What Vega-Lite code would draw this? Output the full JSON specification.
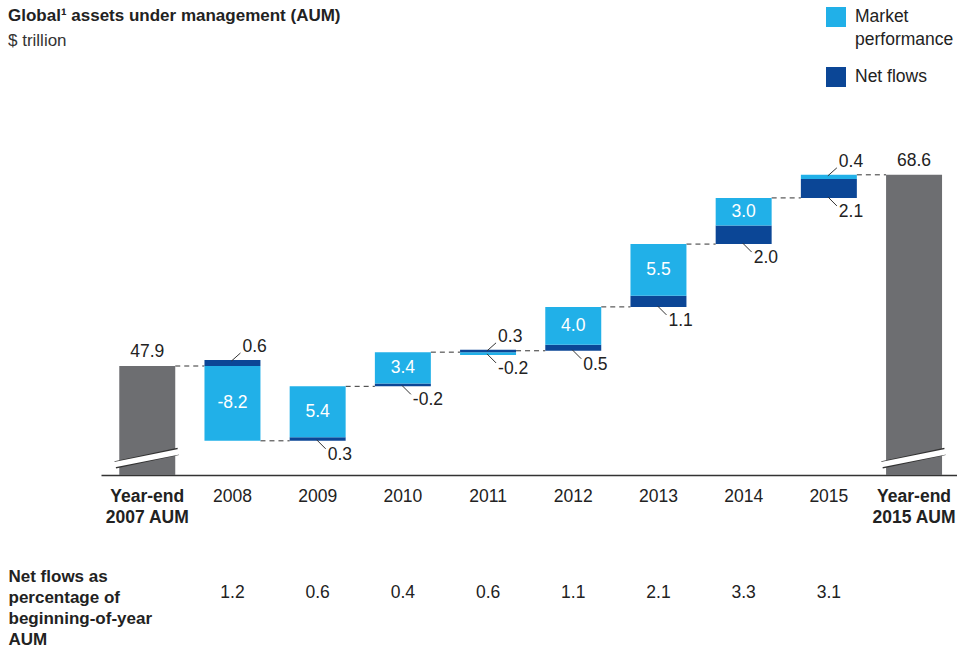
{
  "$schema": "https://vega.github.io/schema/vega-lite/v6.json",
  "autosize": {"type": "none"},
  "padding": {"left": 101, "top": 100, "right": 0, "bottom": 172},
  "width": 856,
  "height": 375,
  "background": "white",
  "config": {
    "view": {"stroke": null},
    "font": "Liberation Sans",
    "text": {"font": "Liberation Sans"}
  },
  "title": {
    "text": "Global¹ assets under management (AUM)",
    "subtitle": "$ trillion",
    "anchor": "start",
    "frame": "group",
    "dx": -93,
    "offset": 0,
    "dy": 43,
    "font": "Liberation Sans",
    "fontSize": 17,
    "fontWeight": "bold",
    "color": "#222222",
    "subtitleFont": "Liberation Sans",
    "subtitleFontSize": 17,
    "subtitleColor": "#333333",
    "subtitlePadding": 8
  },
  "datasets": {
    "bars": [
      {"cat": "Year-end 2007 AUM", "type": "Total", "lo": 36.1, "hi": 47.9, "label": "47.9"},
      {"cat": "2008", "type": "Net flows", "lo": 47.9, "hi": 48.55, "label": "0.6"},
      {"cat": "2008", "type": "Market performance", "lo": 39.8, "hi": 47.9, "label": "-8.2"},
      {"cat": "2009", "type": "Net flows", "lo": 39.8, "hi": 40.2, "label": "0.3"},
      {"cat": "2009", "type": "Market performance", "lo": 40.2, "hi": 45.7, "label": "5.4"},
      {"cat": "2010", "type": "Net flows", "lo": 45.7, "hi": 46.0, "label": "-0.2"},
      {"cat": "2010", "type": "Market performance", "lo": 46.0, "hi": 49.4, "label": "3.4"},
      {"cat": "2011", "type": "Market performance", "lo": 49.1, "hi": 49.4, "label": "-0.2"},
      {"cat": "2011", "type": "Net flows", "lo": 49.4, "hi": 49.65, "label": "0.3"},
      {"cat": "2012", "type": "Net flows", "lo": 49.55, "hi": 50.2, "label": "0.5"},
      {"cat": "2012", "type": "Market performance", "lo": 50.2, "hi": 54.3, "label": "4.0"},
      {"cat": "2013", "type": "Net flows", "lo": 54.3, "hi": 55.5, "label": "1.1"},
      {"cat": "2013", "type": "Market performance", "lo": 55.5, "hi": 61.1, "label": "5.5"},
      {"cat": "2014", "type": "Net flows", "lo": 61.1, "hi": 63.1, "label": "2.0"},
      {"cat": "2014", "type": "Market performance", "lo": 63.1, "hi": 66.1, "label": "3.0"},
      {"cat": "2015", "type": "Net flows", "lo": 66.1, "hi": 68.15, "label": "2.1"},
      {"cat": "2015", "type": "Market performance", "lo": 68.15, "hi": 68.6, "label": "0.4"},
      {"cat": "Year-end 2015 AUM", "type": "Total", "lo": 36.1, "hi": 68.6, "label": "68.6"}
    ],
    "connectors": [
      {"cat": "Year-end 2007 AUM", "next": "2008", "level": 47.9},
      {"cat": "2008", "next": "2009", "level": 39.8},
      {"cat": "2009", "next": "2010", "level": 45.7},
      {"cat": "2010", "next": "2011", "level": 49.4},
      {"cat": "2011", "next": "2012", "level": 49.55},
      {"cat": "2012", "next": "2013", "level": 54.3},
      {"cat": "2013", "next": "2014", "level": 61.1},
      {"cat": "2014", "next": "2015", "level": 66.1},
      {"cat": "2015", "next": "Year-end 2015 AUM", "level": 68.6}
    ],
    "pct": [
      {"cat": "2008", "pct": "1.2"},
      {"cat": "2009", "pct": "0.6"},
      {"cat": "2010", "pct": "0.4"},
      {"cat": "2011", "pct": "0.6"},
      {"cat": "2012", "pct": "1.1"},
      {"cat": "2013", "pct": "2.1"},
      {"cat": "2014", "pct": "3.3"},
      {"cat": "2015", "pct": "3.1"}
    ]
  },
  "encoding": {
    "x": {
      "field": "cat",
      "type": "nominal",
      "sort": null,
      "scale": {
        "domain": ["Year-end 2007 AUM", "2008", "2009", "2010", "2011", "2012", "2013", "2014", "2015", "Year-end 2015 AUM"],
        "paddingInner": 0.343,
        "paddingOuter": 0.195,
        "align": 0.55
      },
      "axis": {
        "title": ["Net flows as", "percentage of", "beginning-of-year", "AUM"],
        "titleFont": "Liberation Sans",
        "titleFontSize": 17,
        "titleFontWeight": "bold",
        "titleColor": "#222222",
        "titleAlign": "left",
        "titleAnchor": "start",
        "titleBaseline": "top",
        "titleLineHeight": 21,
        "titleX": -93,
        "titleY": 93,
        "labelAngle": 0,
        "labelFont": "Liberation Sans",
        "labelFontSize": 17.5,
        "labelColor": "#222222",
        "labelBaseline": "top",
        "labelPadding": 12,
        "labelLineHeight": 21.5,
        "labelOverlap": false,
        "labelBound": false,
        "labelExpr": "indexof(datum.label, 'Year-end') == 0 ? ['Year-end', substring(datum.label, 9)] : datum.label",
        "labelFontWeight": {"condition": {"test": "indexof(datum.label, 'Year-end') == 0", "value": "bold"}, "value": "normal"},
        "ticks": false,
        "grid": false,
        "domainColor": "#333333",
        "domainWidth": 1.5
      }
    }
  },
  "layer": [
    {
      "data": {"name": "connectors"},
      "mark": {"type": "rule", "color": "#333333", "strokeWidth": 1, "strokeDash": [5, 4], "xOffset": 28, "x2Offset": -28},
      "encoding": {
        "x2": {"field": "next"},
        "y": {"field": "level", "type": "quantitative", "scale": {"domain": [36.1, 76.7], "nice": false, "zero": false}, "axis": null}
      }
    },
    {
      "data": {"name": "bars"},
      "mark": {"type": "bar"},
      "encoding": {
        "y": {"field": "lo", "type": "quantitative", "scale": {"domain": [36.1, 76.7], "nice": false, "zero": false}, "axis": null},
        "y2": {"field": "hi"},
        "color": {
          "field": "type",
          "type": "nominal",
          "scale": {"domain": ["Market performance", "Net flows", "Total"], "range": ["#21b0e8", "#0b4696", "#6d6e71"]},
          "legend": {
            "values": ["Market performance", "Net flows"],
            "title": null,
            "orient": "none",
            "legendX": 725,
            "legendY": -93,
            "symbolType": "square",
            "symbolSize": 400,
            "symbolStrokeWidth": 0,
            "symbolOpacity": 1,
            "labelFont": "Liberation Sans",
            "labelFontSize": 17.5,
            "labelColor": "#222222",
            "labelOffset": 9,
            "labelBaseline": "middle",
            "rowPadding": 18,
            "labelExpr": "datum.label == 'Market performance' ? ['Market', 'performance'] : datum.label",
            "encode": {"labels": {"update": {"lineHeight": {"value": 23}}}}
          }
        }
      }
    },
    {
      "data": {"name": "bars"},
      "transform": [{"filter": "datum.type == 'Total'"}],
      "mark": {"type": "rule", "color": "#333333", "strokeWidth": 7.5, "xOffset": -32, "x2Offset": 31},
      "encoding": {
        "x2": {"field": "cat"},
        "y": {"datum": 37.2, "type": "quantitative", "scale": {"domain": [36.1, 76.7], "nice": false, "zero": false}, "axis": null},
        "y2": {"datum": 38.65}
      }
    },
    {
      "data": {"name": "bars"},
      "transform": [{"filter": "datum.type == 'Total'"}],
      "mark": {"type": "rule", "color": "#ffffff", "strokeWidth": 5.5, "xOffset": -34, "x2Offset": 33},
      "encoding": {
        "x2": {"field": "cat"},
        "y": {"datum": 37.2, "type": "quantitative", "scale": {"domain": [36.1, 76.7], "nice": false, "zero": false}, "axis": null},
        "y2": {"datum": 38.65}
      }
    },
    {
      "data": {"name": "bars"},
      "transform": [{"filter": "datum.type == 'Total'"}],
      "mark": {"type": "text", "fontSize": 17.5, "color": "#222222", "baseline": "middle", "yOffset": -14},
      "encoding": {
        "y": {"field": "hi", "type": "quantitative", "scale": {"domain": [36.1, 76.7], "nice": false, "zero": false}, "axis": null},
        "text": {"field": "label"}
      }
    },
    {
      "data": {"name": "bars"},
      "transform": [
        {"filter": "datum.type == 'Market performance' && datum.hi - datum.lo > 2"},
        {"fold": ["lo", "hi"], "as": ["edge", "v"]}
      ],
      "mark": {"type": "text", "fontSize": 17.5, "color": "#ffffff", "baseline": "middle"},
      "encoding": {
        "y": {"aggregate": "mean", "field": "v", "type": "quantitative", "scale": {"domain": [36.1, 76.7], "nice": false, "zero": false}, "axis": null},
        "text": {"field": "label"},
        "detail": {"field": "type"}
      }
    },
    {
      "data": {"name": "bars"},
      "transform": [
        {"joinaggregate": [{"op": "max", "field": "hi", "as": "top"}], "groupby": ["cat"]},
        {"filter": "datum.type != 'Total' && !(datum.type == 'Market performance' && datum.hi - datum.lo > 2) && datum.hi == datum.top"}
      ],
      "layer": [
        {
          "mark": {"type": "rule", "color": "#333333", "strokeWidth": 1, "xOffset": -1, "x2Offset": 8, "yOffset": 1, "y2Offset": -7},
          "encoding": {
            "x2": {"field": "cat"},
            "y": {"field": "hi", "type": "quantitative", "scale": {"domain": [36.1, 76.7], "nice": false, "zero": false}, "axis": null},
            "y2": {"field": "hi"}
          }
        },
        {
          "mark": {"type": "text", "fontSize": 17.5, "color": "#222222", "align": "left", "baseline": "middle", "xOffset": 10, "yOffset": -13},
          "encoding": {
            "y": {"field": "hi", "type": "quantitative", "scale": {"domain": [36.1, 76.7], "nice": false, "zero": false}, "axis": null},
            "text": {"field": "label"}
          }
        }
      ]
    },
    {
      "data": {"name": "bars"},
      "transform": [
        {"joinaggregate": [{"op": "max", "field": "hi", "as": "top"}], "groupby": ["cat"]},
        {"filter": "datum.type != 'Total' && !(datum.type == 'Market performance' && datum.hi - datum.lo > 2) && datum.hi != datum.top"}
      ],
      "layer": [
        {
          "mark": {"type": "rule", "color": "#333333", "strokeWidth": 1, "xOffset": -1, "x2Offset": 8, "yOffset": -1, "y2Offset": 8},
          "encoding": {
            "x2": {"field": "cat"},
            "y": {"field": "lo", "type": "quantitative", "scale": {"domain": [36.1, 76.7], "nice": false, "zero": false}, "axis": null},
            "y2": {"field": "lo"}
          }
        },
        {
          "mark": {"type": "text", "fontSize": 17.5, "color": "#222222", "align": "left", "baseline": "middle", "xOffset": 10, "yOffset": 14},
          "encoding": {
            "y": {"field": "lo", "type": "quantitative", "scale": {"domain": [36.1, 76.7], "nice": false, "zero": false}, "axis": null},
            "text": {"field": "label"}
          }
        }
      ]
    },
    {
      "data": {"name": "pct"},
      "mark": {"type": "text", "fontSize": 17.5, "color": "#222222", "baseline": "middle"},
      "encoding": {
        "y": {"datum": 23.3, "type": "quantitative", "scale": {"domain": [36.1, 76.7], "nice": false, "zero": false}, "axis": null},
        "text": {"field": "pct"}
      }
    }
  ]
}
